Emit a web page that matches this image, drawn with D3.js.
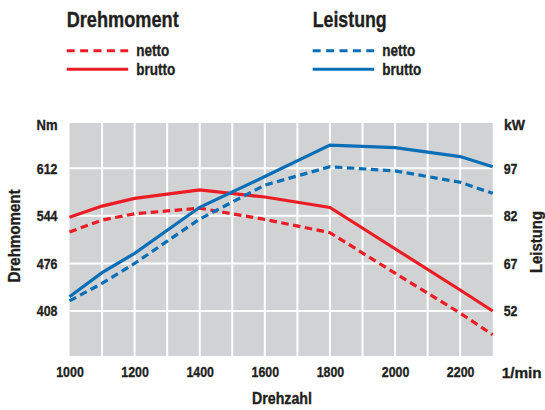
<!DOCTYPE html>
<html><head><meta charset="utf-8">
<script src="https://cdn.jsdelivr.net/npm/d3@7"></script>
<style>
html,body{margin:0;padding:0;background:#fff;}
svg text{font-family:"Liberation Sans",Arial,sans-serif;font-weight:bold;fill:#231f20;stroke:#231f20;stroke-width:0.35px;}
</style></head><body>
<svg id="c" width="545" height="410"></svg>
<script>
const rpm = [1000,1100,1200,1400,1600,1800,2000,2200,2300];
const torqueBrutto = [542,558,569,581,571,556,497,438,408];
const torqueNetto  = [521,538,547,555,539,520,462,405,374];
const powerBrutto  = [56.5,64.1,70.2,84.7,94.4,104.3,103.5,100.7,97.5];
const powerNetto   = [55.2,60.7,67.0,81.0,91.7,97.5,96.2,92.6,89.1];
const xTicks = [1000,1200,1400,1600,1800,2000,2200];
const xGrid = [1100,1200,1300,1400,1500,1600,1700,1800,1900,2000,2100,2200];
const nmTicks = [408,476,544,612];
const kwTicks = [52,67,82,97];

const RED = "#ec1c24", BLUE = "#0b6fb8";
const svg = d3.select("#c");
const L = 69.5, R = 492.7, T = 123, B = 356;
const DIGIT_W = 6.9;

const x = d3.scaleLinear().domain([1000,2300]).range([L,R]);
const yNm = d3.scaleLinear().domain([408,612]).range([311,168.3]);
const yKw = d3.scaleLinear().domain([52,97]).range([311,168.3]);

svg.append("rect").attr("x",L).attr("y",T).attr("width",R-L).attr("height",B-T).attr("fill","#d1d2d4");

const g = svg.append("g");
g.selectAll(".vg").data(xGrid).enter().append("line")
  .attr("x1",d=>x(d)).attr("x2",d=>x(d)).attr("y1",T).attr("y2",B)
  .attr("stroke","#fff").attr("stroke-width",2);
g.selectAll(".hg").data(nmTicks).enter().append("line")
  .attr("x1",L).attr("x2",R).attr("y1",d=>yNm(d)).attr("y2",d=>yNm(d))
  .attr("stroke","#fff").attr("stroke-width",2);

function squeeze(sel){
  sel.style("font-size","15.5px").attr("fill","#231f20")
    .attr("lengthAdjust","spacingAndGlyphs")
    .attr("textLength",function(){ return this.textContent.length*DIGIT_W; });
}
const axL = d3.axisLeft(yNm).tickValues(nmTicks).tickSize(0).tickPadding(12);
svg.append("g").attr("transform",`translate(${L},0)`).call(axL)
  .call(s=>s.select(".domain").remove())
  .selectAll("text").call(squeeze);
const axR = d3.axisRight(yKw).tickValues(kwTicks).tickSize(0).tickPadding(11);
svg.append("g").attr("transform",`translate(${R},0)`).call(axR)
  .call(s=>s.select(".domain").remove())
  .selectAll("text").call(squeeze);
const axB = d3.axisBottom(x).tickValues(xTicks).tickSize(0).tickPadding(10).tickFormat(d3.format("d"));
svg.append("g").attr("transform",`translate(0,${B})`).call(axB)
  .call(s=>s.select(".domain").remove())
  .selectAll("text").call(squeeze);

function label(x0,y0,txt,size,len,anchor,rot){
  const t = svg.append("text").attr("text-anchor",anchor||"start").style("font-size",size+"px")
    .attr("lengthAdjust","spacingAndGlyphs").attr("textLength",len).text(txt);
  if(rot) t.attr("transform",`translate(${x0},${y0}) rotate(${rot})`);
  else t.attr("x",x0).attr("y",y0);
  return t;
}
label(57.5,129.5,"Nm",15.5,21,"end");
label(504,129.5,"kW",15.5,21,"start");
label(501.7,377.5,"1/min",15.5,40,"start");
label(282,404,"Drehzahl",16,60,"middle");
label(19.5,236,"Drehmoment",16.5,93,"middle",-90);
label(542,242,"Leistung",16.5,62,"middle",-90);

const lineNm = d3.line().x(d=>x(d[0])).y(d=>yNm(d[1]));
const lineKw = d3.line().x(d=>x(d[0])).y(d=>yKw(d[1]));
const zip = a => rpm.map((r,i)=>[r,a[i]]);

const plot = svg.append("g");
plot.append("path").attr("d",lineNm(zip(torqueNetto))).attr("fill","none").attr("stroke",RED).attr("stroke-width",3.2).attr("stroke-dasharray","7.5,4.5");
plot.append("path").attr("d",lineNm(zip(torqueBrutto))).attr("fill","none").attr("stroke",RED).attr("stroke-width",3.2);
plot.append("path").attr("d",lineKw(zip(powerNetto))).attr("fill","none").attr("stroke",BLUE).attr("stroke-width",3.2).attr("stroke-dasharray","7.5,4.5");
plot.append("path").attr("d",lineKw(zip(powerBrutto))).attr("fill","none").attr("stroke",BLUE).attr("stroke-width",3.2);

function legend(x0, title, titleLen, color){
  label(x0,27,title,22,titleLen,"start");
  svg.append("line").attr("x1",x0).attr("x2",x0+61.5).attr("y1",50.7).attr("y2",50.7)
    .attr("stroke",color).attr("stroke-width",3).attr("stroke-dasharray","8,5.4");
  svg.append("line").attr("x1",x0).attr("x2",x0+61.5).attr("y1",69.3).attr("y2",69.3)
    .attr("stroke",color).attr("stroke-width",3);
  label(x0+69.5,56,"netto",17,33,"start");
  label(x0+69.5,75,"brutto",17,39,"start");
}
legend(66.7,"Drehmoment",112,RED);
legend(312.7,"Leistung",74,BLUE);
</script>
</body></html>
